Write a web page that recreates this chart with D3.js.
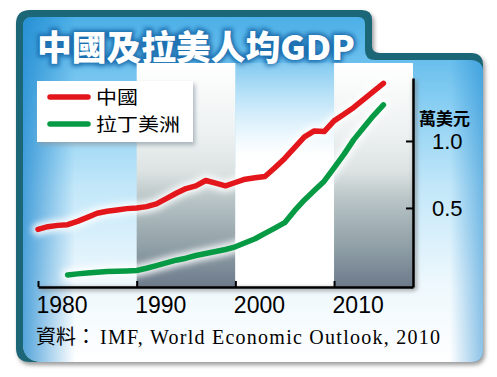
<!DOCTYPE html>
<html>
<head>
<meta charset="utf-8">
<script src="https://cdn.jsdelivr.net/npm/d3@7"></script>
<style>
  html, body { margin: 0; padding: 0; background: #fff; }
  svg { display: block; }
</style>
</head>
<body>
<svg id="chart" width="497" height="377"></svg>
<script>
// data (unit: 10,000 USD)
const chinaYears = [1980, 1981, 1982, 1983, 1984, 1985, 1986, 1987, 1988, 1989, 1990, 1991, 1992, 1993, 1994, 1995, 1996, 1997, 1998, 1999, 2000, 2001, 2002, 2003, 2004, 2005, 2006, 2007, 2008, 2009, 2010, 2011, 2012, 2013, 2014, 2015];
const chinaValues = [0.34, 0.36, 0.37, 0.375, 0.40, 0.43, 0.46, 0.475, 0.485, 0.495, 0.50, 0.51, 0.53, 0.57, 0.61, 0.645, 0.665, 0.705, 0.685, 0.665, 0.69, 0.715, 0.725, 0.735, 0.80, 0.87, 0.95, 1.03, 1.075, 1.07, 1.15, 1.20, 1.25, 1.31, 1.37, 1.43];
const latamYears = [1983, 1984, 1985, 1986, 1987, 1988, 1989, 1990, 1991, 1992, 1993, 1994, 1995, 1996, 1997, 1998, 1999, 2000, 2001, 2002, 2003, 2004, 2005, 2006, 2007, 2008, 2009, 2010, 2011, 2012, 2013, 2014, 2015];
const latamValues = [0.0, 0.008, 0.014, 0.02, 0.025, 0.028, 0.03, 0.033, 0.05, 0.07, 0.09, 0.11, 0.125, 0.145, 0.16, 0.175, 0.19, 0.21, 0.24, 0.27, 0.31, 0.35, 0.39, 0.48, 0.56, 0.63, 0.70, 0.80, 0.90, 1.01, 1.10, 1.19, 1.27];
const seriesNames = ["中國", "拉丁美洲"];
const xTicks = [1980, 1990, 2000, 2010];
const yTicks = [0.5, 1.0];
const bandYears = [[1990, 2000, "gray"], [2000, 2010, "white"], [2010, 2018, "gray"]];
const titleText = "中國及拉美人均GDP";
const unitText = "萬美元";
const sourceLabel = "資料：";
const sourceText = "IMF, World Economic Outlook, 2010";

const svg = d3.select("#chart");
const defs = svg.append("defs");

const x = d3.scaleLinear().domain([1980, 2018]).range([38, 413]);
const y = d3.scaleLinear().domain([-0.09, 1.47]).range([287, 78]);
const bandTop = 63;

// gradients
function vGrad(id, y1, y2, stops) {
  const g = defs.append("linearGradient").attr("id", id)
    .attr("gradientUnits", "userSpaceOnUse")
    .attr("x1", 0).attr("x2", 0).attr("y1", y1).attr("y2", y2);
  stops.forEach(s => g.append("stop").attr("offset", s[0]).attr("stop-color", s[1]).attr("stop-opacity", s[2] == null ? 1 : s[2]));
}
function hGrad(id, x1, x2, stops) {
  const g = defs.append("linearGradient").attr("id", id)
    .attr("gradientUnits", "userSpaceOnUse")
    .attr("x1", x1).attr("x2", x2).attr("y1", 0).attr("y2", 0);
  stops.forEach(s => g.append("stop").attr("offset", s[0]).attr("stop-color", s[1]).attr("stop-opacity", s[2] == null ? 1 : s[2]));
}
vGrad("panelBg", 10, 362, [[0, "#47ade6"], [0.25, "#84ccf2"], [0.5, "#c2e7f9"], [0.78, "#eef8fd"], [1, "#ffffff"]]);
hGrad("edgeL", 23, 75, [[0, "#1a86cf", 0.75], [1, "#1a86cf", 0]]);
hGrad("edgeR", 450, 483, [[0, "#1a86cf", 0], [1, "#1a86cf", 0.5]]);
vGrad("grayBand", bandTop, 287, [[0, "#ffffff"], [0.3, "#eef2f2"], [0.48, "#dde3e3"], [0.61, "#b8c4c6"], [0.83, "#8e9ea5"], [1, "#6c7a8b"]]);
vGrad("whiteBand", bandTop, 287, [[0, "#ffffff", 0.15], [0.42, "#ffffff", 1], [1, "#ffffff", 1]]);

const blur = defs.append("filter").attr("id", "blur").attr("x", "-20%").attr("y", "-20%").attr("width", "140%").attr("height", "140%");
blur.append("feGaussianBlur").attr("stdDeviation", 2);
const glow = defs.append("filter").attr("id", "glow").attr("x", "-20%").attr("y", "-20%").attr("width", "140%").attr("height", "140%");
glow.append("feGaussianBlur").attr("stdDeviation", 3);

// panel
const outer = "M16,24 Q16,10 30,10 L362,10 Q372,10 372,20 L372,46 Q372,53 380,53 L471,53 Q483,53 483,65 L483,350 Q483,362 471,362 L30,362 Q16,362 16,348 Z";
const inner = "M23,26 Q23,17 32,17 L358,17 Q365,17 365,24 L365,50 Q365,60 375,60 L469,60 Q483,60 483,72 L483,350 Q483,362 471,362 L40,362 Q23,360 23,344 Z";
svg.append("path").attr("d", outer).attr("fill", "#9a9a9a").attr("transform", "translate(2,3)").attr("filter", "url(#blur)");
svg.append("path").attr("d", outer).attr("fill", "#1b6677");
svg.append("path").attr("d", inner).attr("fill", "url(#panelBg)");
svg.append("path").attr("d", inner).attr("fill", "url(#edgeL)");
svg.append("path").attr("d", inner).attr("fill", "url(#edgeR)");

// title
svg.append("text").attr("x", 37).attr("y", 60)
  .attr("font-family", "'Noto Sans CJK TC', 'Noto Sans', sans-serif")
  .attr("font-weight", 900).attr("font-size", 34)
  .attr("textLength", 318).attr("lengthAdjust", "spacingAndGlyphs")
  .attr("fill", "#1f6fb0").attr("stroke", "#1f6fb0").attr("stroke-width", 5)
  .attr("filter", "url(#blur)")
  .text(titleText);
svg.append("text").attr("x", 37).attr("y", 60)
  .attr("font-family", "'Noto Sans CJK TC', 'Noto Sans', sans-serif")
  .attr("font-weight", 900).attr("font-size", 34)
  .attr("textLength", 318).attr("lengthAdjust", "spacingAndGlyphs")
  .attr("fill", "#ffffff")
  .text(titleText);

// background bands
svg.append("g").selectAll("rect")
  .data(bandYears)
  .join("rect")
  .attr("x", d => x(d[0]))
  .attr("y", bandTop)
  .attr("width", d => x(d[1]) - x(d[0]))
  .attr("height", y.range()[0] - bandTop)
  .attr("fill", d => d[2] === "gray" ? "url(#grayBand)" : "url(#whiteBand)");

// lines
const line = d3.line().x(d => x(d[0])).y(d => y(d[1]));
const china = chinaYears.map((yr, i) => [yr, chinaValues[i]]);
const latam = latamYears.map((yr, i) => [yr, latamValues[i]]);
const lines = [[china, "#e3161b"], [latam, "#079a45"]];
const lg = svg.append("g");
lines.forEach(l => {
  lg.append("path").attr("d", line(l[0])).attr("fill", "none")
    .attr("stroke", "#ffffff").attr("stroke-width", 12).attr("stroke-opacity", 0.9)
    .attr("stroke-linejoin", "round").attr("stroke-linecap", "round")
    .attr("filter", "url(#glow)");
});
lines.forEach(l => {
  lg.append("path").attr("d", line(l[0])).attr("fill", "none")
    .attr("stroke", l[1]).attr("stroke-width", 5.5)
    .attr("stroke-linejoin", "round").attr("stroke-linecap", "round");
});

// axis shadow (lines only)
const sh = svg.append("g").attr("filter", "url(#blur)").attr("stroke", "#7a7a7a").attr("stroke-width", 2.5);
sh.append("line").attr("x1", x.range()[0] + 2).attr("x2", x.range()[1] + 2)
  .attr("y1", y.range()[0] + 2).attr("y2", y.range()[0] + 2);
sh.append("line").attr("x1", x.range()[1] + 2).attr("x2", x.range()[1] + 2)
  .attr("y1", y.range()[1] + 2).attr("y2", y.range()[0] + 2);

// axes
const xa = svg.append("g").attr("transform", `translate(0,${y.range()[0]})`)
  .call(d3.axisBottom(x).tickValues(xTicks).tickSize(-6).tickSizeOuter(0).tickPadding(10).tickFormat(d3.format("d")));
const ya = svg.append("g").attr("transform", `translate(${x.range()[1]},0)`)
  .call(d3.axisRight(y).tickValues(yTicks).tickSize(-7).tickSizeOuter(0).tickPadding(19).tickFormat(d3.format(".1f")));
[xa, ya].forEach(a => {
  a.select(".domain").attr("stroke", "#000").attr("stroke-width", 2.5);
  a.selectAll(".tick line").attr("stroke", "#000").attr("stroke-width", 2);
  a.selectAll("text").attr("fill", "#000")
    .attr("font-family", "'Liberation Sans', Arial, sans-serif").attr("font-size", 22);
});
xa.selectAll(".tick text").attr("text-anchor", "start").attr("dy", "0.71em").attr("x", -2)
  .attr("font-size", 23);
ya.selectAll(".tick text").attr("text-anchor", "start").attr("dy", "0.36em");

// unit label
svg.append("text").attr("x", 419).attr("y", 125)
  .attr("font-family", "'Noto Sans CJK TC', sans-serif").attr("font-size", 17).attr("font-weight", 700)
  .attr("fill", "#000").text(unitText);

// legend
const legend = svg.append("g").attr("transform", "translate(37,81)");
legend.append("rect").attr("x", 2).attr("y", 3).attr("width", 156).attr("height", 61)
  .attr("fill", "#8a9aa5").attr("opacity", 0.7).attr("filter", "url(#blur)");
legend.append("rect").attr("width", 156).attr("height", 61).attr("fill", "#fff");
const items = legend.selectAll("g.item")
  .data(seriesNames)
  .join("g").attr("class", "item")
  .attr("transform", (d, i) => `translate(0,${16 + i * 27})`);
items.append("line").attr("x1", 13).attr("x2", 51)
  .attr("stroke", (d, i) => lines[i][1]).attr("stroke-width", 5.5).attr("stroke-linecap", "round");
items.append("text").attr("x", 59).attr("y", 0).attr("dy", "0.36em")
  .attr("font-family", "'Noto Sans CJK TC', sans-serif").attr("font-size", 18.5)
  .attr("textLength", d => d.length * 21).attr("lengthAdjust", "spacingAndGlyphs")
  .attr("fill", "#000").text(d => d);

// source
svg.append("text").attr("x", 36).attr("y", 344)
  .attr("font-family", "'Noto Sans CJK TC', serif")
  .attr("font-size", 20).attr("fill", "#000")
  .text(sourceLabel);
svg.append("text").attr("x", 100).attr("y", 344)
  .attr("font-family", "'Liberation Serif', 'Times New Roman', serif")
  .attr("font-size", 20).attr("fill", "#000")
  .attr("textLength", 340).attr("lengthAdjust", "spacing")
  .text(sourceText);
</script>
</body>
</html>
